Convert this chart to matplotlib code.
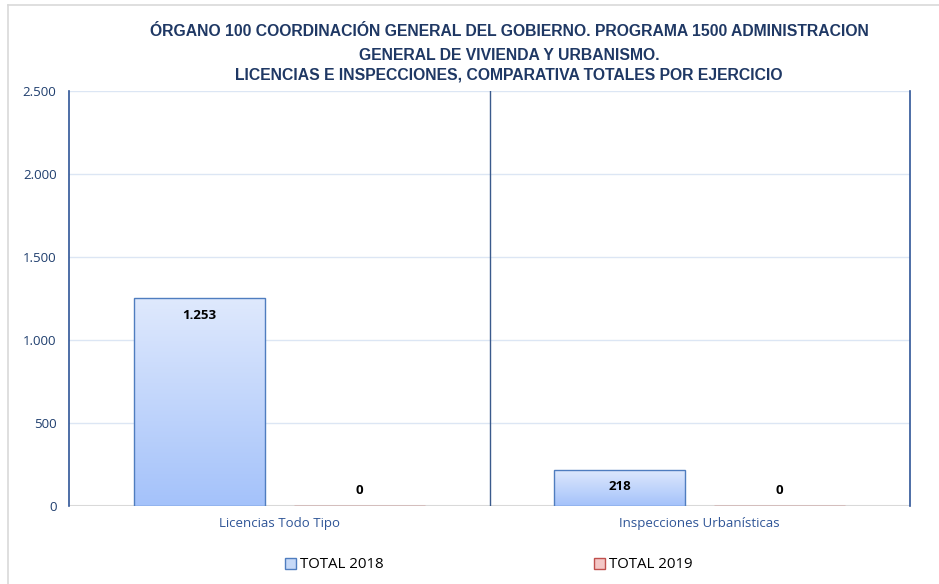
import matplotlib
matplotlib.use("Agg")
import matplotlib.pyplot as plt
import numpy as np
from matplotlib.lines import Line2D
from matplotlib.patches import Patch
from matplotlib.colors import LinearSegmentedColormap

categories = ["Licencias Todo Tipo", "Inspecciones Urbanísticas"]
series_names = ["TOTAL 2018", "TOTAL 2019"]
values_2018 = [1253, 218]
values_2019 = [0, 0]
yticks = [0, 500, 1000, 1500, 2000, 2500]
title_lines = [
    "ÓRGANO 100 COORDINACIÓN GENERAL DEL GOBIERNO. PROGRAMA 1500 ADMINISTRACION",
    "GENERAL DE VIVIENDA Y URBANISMO.",
    "LICENCIAS E INSPECCIONES, COMPARATIVA TOTALES POR EJERCICIO",
]

W, H = 939, 584
fig = plt.figure(figsize=(W / 100, H / 100), dpi=100)
fam = ["Liberation Sans", "DejaVu Sans"]
fam2 = ["Open Sans", "Liberation Sans", "DejaVu Sans"]

ax = fig.add_axes([69 / W, 1 - 506 / H, (910 - 69) / W, (506 - 91) / H])
ax.set_xlim(-0.5, 1.5)
ax.set_ylim(0, 2500)

# outer chart frame (light gray)
fig.add_artist(Line2D([8 / W, 8 / W], [0, 1 - 5 / H], transform=fig.transFigure, color="#D9D9D9", lw=1.2))
fig.add_artist(Line2D([8 / W, 1], [1 - 5 / H, 1 - 5 / H], transform=fig.transFigure, color="#D9D9D9", lw=1.2))

# grid
for t in yticks[1:]:
    ax.axhline(t, color="#DCE6F4", lw=1.0, zorder=0)
ax.axhline(0, color="#D9D9D9", lw=1.5, zorder=1)

x = np.arange(len(categories))
bw = 0.312
off = 0.19

grad = np.linspace(0, 1, 256).reshape(-1, 1)
cmap18 = LinearSegmentedColormap.from_list("g18", ["#A4C2FA", "#DFE9FD"])

bars18 = ax.bar(x - off, values_2018, bw, facecolor="none", edgecolor="#4F7DBF", lw=1.0, zorder=3)
bars19 = ax.bar(x + off, values_2019, bw, facecolor="none", edgecolor="#C0504D", lw=1.0, zorder=3)

for b in bars18:
    bx, by = b.get_x(), b.get_y()
    bwid, bh = b.get_width(), b.get_height()
    if bh <= 0:
        continue
    im = ax.imshow(grad, extent=[bx, bx + bwid, by, by + bh], origin="lower",
                   cmap=cmap18, aspect="auto", zorder=2)
    im.set_clip_path(b)

for b, v in zip(bars18, values_2018):
    cx = b.get_x() + b.get_width() / 2
    ax.annotate(f"{v:,}".replace(",", "."), (cx, v), xytext=(0, -17), textcoords="offset pixels",
                ha="center", va="center", fontsize=9.5, fontweight="bold", family=fam2, zorder=5)
for b, v in zip(bars19, values_2019):
    cx = b.get_x() + b.get_width() / 2
    ax.annotate(f"{v:,}".replace(",", "."), (cx, v), xytext=(0, 16), textcoords="offset pixels",
                ha="center", va="center", fontsize=9.5, fontweight="bold", family=fam2, zorder=5)

# separator between categories
ax.axvline(0.5, color="#3A5A8C", lw=1.0, zorder=4)

for s in ["top", "bottom"]:
    ax.spines[s].set_visible(False)
for s in ["left", "right"]:
    ax.spines[s].set_color("#2F5597")
    ax.spines[s].set_linewidth(1.2)

ax.set_yticks(yticks)
ax.set_yticklabels([f"{t:,}".replace(",", ".") for t in yticks], family=fam2, fontsize=9.5, color="#1F3E6E")
ax.tick_params(axis="y", length=0, pad=9)
ax.set_xticks(x)
ax.set_xticklabels(categories, family=fam2, fontsize=9.5, color="#2F5597")
ax.tick_params(axis="x", length=0, pad=8)

ys = [32, 56, 75]
for line, yy in zip(title_lines, ys):
    fig.text(509 / W, 1 - yy / H, line, ha="center", va="center", fontsize=11.3,
             fontweight="bold", color="#1F3864", family=fam)

handles = [Patch(facecolor="#C6D9F7", edgecolor="#4F7DBF"), Patch(facecolor="#F4C7C6", edgecolor="#C0504D")]
fig.legend(handles, series_names, loc="center", bbox_to_anchor=(489 / W, 1 - 565 / H), ncol=2,
           frameon=False, prop={"family": fam2, "size": 10.8}, columnspacing=14.0,
           handlelength=0.7, handleheight=0.7, handletextpad=0.3)

fig.savefig("out.png", dpi=100, facecolor="white")
